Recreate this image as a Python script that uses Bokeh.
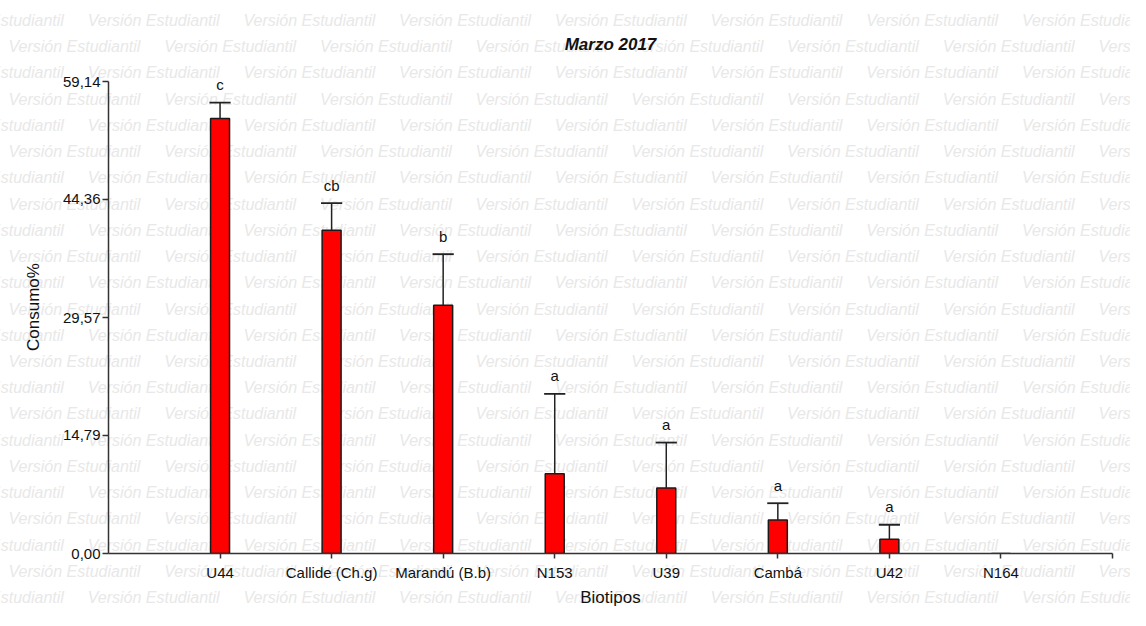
from bokeh.plotting import figure
from bokeh.layouts import column
from bokeh.models import ColumnDataSource, FixedTicker, Range1d
from bokeh.embed import file_html
from bokeh.resources import INLINE
from bokeh.core.properties import value

# ---- data ----
categories = ["U44", "Callide (Ch.g)", "Marandú (B.b)", "N153", "U39", "Cambá", "U42", "N164"]
consumo = [54.5, 40.5, 31.1, 10.0, 8.2, 4.2, 1.8, 0.0]
error_sup = [2.0, 3.4, 6.4, 10.0, 5.7, 2.1, 1.8, 0.0]
letras = ["c", "cb", "b", "a", "a", "a", "a", ""]
y_ticks = [0.0, 14.79, 29.57, 44.36, 59.14]
y_tick_labels = ["0,00", "14,79", "29,57", "44,36", "59,14"]
watermark = "Versión Estudiantil"

FONT = "Liberation Sans"
W, H = 1130, 610
FL, FR, FT, FB = 108, 1112, 60, 553   # frame edges in canvas pixels

x = list(range(len(categories)))
n = len(categories)
x_end = n  # one extra slot at the right end of the axis
y_max = y_ticks[-1]
px_y = (FB - 81) / y_max
y_top = (FB - FT) / px_y

# ---- background layer: watermark text over the whole canvas ----
bg = figure(width=W, height=H, output_backend="svg", toolbar_location=None,
            x_range=Range1d(0, W), y_range=Range1d(H, 0),
            x_axis_location=None, y_axis_location=None,
            min_border=0)
bg.xgrid.visible = False
bg.ygrid.visible = False
bg.outline_line_color = None
bg.background_fill_color = "white"
bg.border_fill_color = "white"
wx, wy, wt = [], [], []
for k in range(25):
    py = 20 + 26.23 * k
    start = -68.5 if k % 2 == 0 else 8
    for j in range(8):
        wx.append(start + 155.7 * j)
        wy.append(py)
        wt.append(watermark)
bg.text(x=wx, y=wy, text=wt, text_align="left", text_baseline="middle",
        text_font=value(FONT), text_font_size="16px", text_font_style="italic",
        text_color="#e8e8e8")

# ---- main chart (transparent, laid over the watermark) ----
p = figure(width=W, height=H, output_backend="svg", toolbar_location=None,
           x_range=Range1d(-1, x_end), y_range=Range1d(0, y_top),
           min_border_left=FL, min_border_right=W - FR,
           min_border_top=FT, min_border_bottom=H - FB)
p.xgrid.visible = False
p.ygrid.visible = False
p.outline_line_color = None
p.background_fill_color = None
p.border_fill_color = None
p.styles = {"margin-top": f"-{H}px"}

for fig in (bg, p):
    try:
        fig.frame_align = False
    except Exception:
        pass

# title
p.title.text = "Marzo 2017"
p.title.align = "center"
p.title.text_font = FONT
p.title.text_font_size = "17px"
p.title.text_font_style = "bold italic"
p.title.text_color = "#111111"
p.title.standoff = 14

# ---- bars ----
src = ColumnDataSource(dict(x=x, consumo=consumo))
p.vbar(x="x", top="consumo", width=0.17, source=src,
       fill_color="#ff0000", line_color="#1a1a1a", line_width=1.5)

# ---- error bars (upper only) ----
ex = [x[i] for i in range(n) if error_sup[i] > 0]
ey0 = [consumo[i] for i in range(n) if error_sup[i] > 0]
ey1 = [consumo[i] + error_sup[i] for i in range(n) if error_sup[i] > 0]
cap = 0.095
err_src = ColumnDataSource(dict(x=ex, y0=ey0, y1=ey1,
                                xl=[v - cap for v in ex], xr=[v + cap for v in ex]))
p.segment(x0="x", y0="y0", x1="x", y1="y1", source=err_src,
          line_color="#222222", line_width=1.5)
p.segment(x0="xl", y0="y1", x1="xr", y1="y1", source=err_src,
          line_color="#222222", line_width=1.8)

# ---- significance letters ----
lt = [letras[i] for i in range(n) if letras[i]]
lx = [x[i] for i in range(n) if letras[i]]
ly = [consumo[i] + error_sup[i] for i in range(n) if letras[i]]
p.text(x=lx, y=ly, text=lt, y_offset=-18, text_align="center", text_baseline="middle",
       text_font=value(FONT), text_font_size="15px", text_color="#111111")

# ---- axes ----
ax = p.xaxis[0]
ax.ticker = FixedTicker(ticks=list(range(n + 1)))
ov = {i: categories[i] for i in range(n)}
ov[n] = ""
ax.major_label_overrides = ov
ax.bounds = (-1, x_end)
ax.minor_tick_line_color = None
ax.major_tick_in = 0
ax.major_tick_out = 5
ax.major_label_standoff = 5
ax.axis_label = "Biotipos"
ax.axis_label_standoff = 4
ax.axis_label_text_font = FONT
ax.axis_label_text_font_size = "17px"
ax.axis_label_text_font_style = "normal"
ax.axis_label_text_color = "#111111"
ax.major_label_text_font = FONT
ax.major_label_text_font_size = "15px"
ax.major_label_text_color = "#111111"
ax.axis_line_color = "#333333"
ax.axis_line_width = 1.5
ax.major_tick_line_color = "#333333"
ax.major_tick_line_width = 1.5

ay = p.yaxis[0]
ay.ticker = FixedTicker(ticks=y_ticks)
ay.major_label_overrides = dict(zip(y_ticks, y_tick_labels))
ay.bounds = (0, y_max)
ay.minor_tick_line_color = None
ay.major_tick_in = 0
ay.major_tick_out = 6
ay.major_label_standoff = 2
ay.axis_label = "Consumo%"
ay.axis_label_standoff = 17
ay.axis_label_text_font = FONT
ay.axis_label_text_font_size = "17px"
ay.axis_label_text_font_style = "normal"
ay.axis_label_text_color = "#111111"
ay.major_label_text_font = FONT
ay.major_label_text_font_size = "15px"
ay.major_label_text_color = "#111111"
ay.axis_line_color = "#333333"
ay.axis_line_width = 1.5
ay.major_tick_line_color = "#333333"
ay.major_tick_line_width = 1.5

layout = column(bg, p, spacing=0)
open("out.html", "w").write(file_html(layout, INLINE))
